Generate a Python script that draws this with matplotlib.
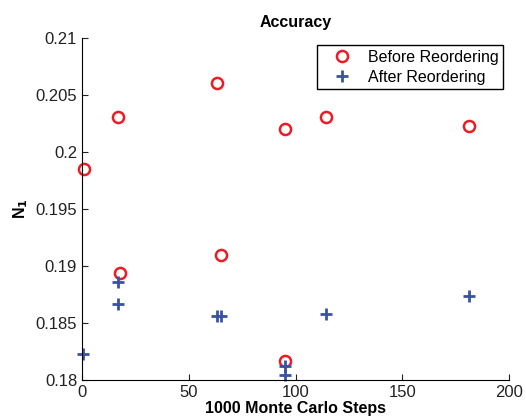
import matplotlib.pyplot as plt

plt.rcParams['font.family'] = ['Liberation Sans', 'DejaVu Sans']

# data
before_x = [1, 17, 18, 63, 65, 95, 95, 114, 181]
before_y = [0.1985, 0.2031, 0.1894, 0.2061, 0.1910, 0.2020, 0.1817, 0.2031, 0.2023]
after_x = [0.5, 17, 17, 63, 65, 95, 95, 114, 181]
after_y = [0.1823, 0.1886, 0.1867, 0.1856, 0.1856, 0.1812, 0.1804, 0.1858, 0.1874]

xticks = [0, 50, 100, 150, 200]
yticks = [0.18, 0.185, 0.19, 0.195, 0.2, 0.205, 0.21]
ytick_labels = ["0.18", "0.185", "0.19", "0.195", "0.2", "0.205", "0.21"]

fig = plt.figure(figsize=(5.26, 4.19), dpi=100)
ax = fig.add_axes([0.156, 0.093, 0.812, 0.816])

ax.plot(before_x, before_y, 'o', mfc='none', mec='#EC1C24', ms=8, mew=1.8,
        label='Before Reordering', clip_on=False)
ax.plot(after_x, after_y, '+', color='#3953A4', ms=8, mew=2,
        label='After Reordering', clip_on=False)

ax.set_xlim(0, 200)
ax.set_ylim(0.18, 0.21)
ax.set_xticks(xticks)
ax.set_yticks(yticks)
ax.set_yticklabels(ytick_labels)
ax.tick_params(direction='in', length=4, width=0.8, labelsize=12, colors='#222222')
for s in ['top', 'right']:
    ax.spines[s].set_visible(False)

ax.set_title('Accuracy', fontsize=11.5, fontweight='bold', pad=8)
ax.set_xlabel('1000 Monte Carlo Steps', fontsize=11.5, fontweight='bold', labelpad=1)
ax.set_ylabel('N$_\\mathbf{1}$', fontsize=11.5, fontweight='bold', labelpad=4)

leg = ax.legend(loc='upper right', bbox_to_anchor=(0.986, 0.98), borderaxespad=0,
                fancybox=False, edgecolor='black', fontsize=11.5, borderpad=0.3,
                handlelength=2.6, handletextpad=0.3, labelspacing=0.3, framealpha=1)
leg.get_frame().set_linewidth(1)

fig.savefig('out.png', dpi=100)
